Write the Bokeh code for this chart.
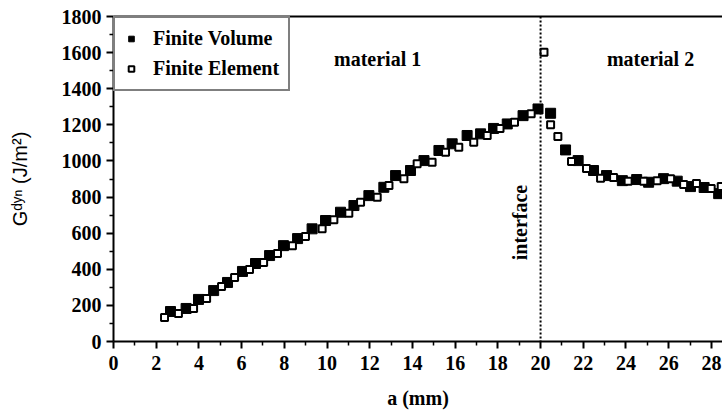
from bokeh.plotting import figure
from bokeh.models import (Range1d, Span, Label, Legend, LegendItem, LinearAxis,
                          FixedTicker, ColumnDataSource)
from bokeh.embed import file_html
from bokeh.resources import INLINE

# Dynamic energy release rate along the crack length a (mm)
fv_a = [2.67, 3.40, 3.98, 4.69, 5.34, 6.04, 6.65, 7.31, 7.96, 8.62, 9.30, 9.93,
        10.63, 11.26, 11.96, 12.66, 13.21, 13.91, 14.54, 15.24, 15.86, 16.56,
        17.19, 17.80, 18.44, 19.18, 19.88,
        20.47, 21.17, 21.76, 22.48, 23.09, 23.83, 24.50, 25.06, 25.76, 26.40,
        27.02, 27.66, 28.34]
fv_g = [166, 183, 233, 282, 327, 388, 432, 476, 531, 570, 624, 670,
        716, 753, 808, 854, 919, 947, 1002, 1058, 1095, 1141,
        1150, 1180, 1205, 1251, 1288,
        1264, 1061, 1002, 947, 919, 891, 897, 882, 902, 888,
        858, 853, 819]

fe_a = [2.39, 3.04, 3.75, 4.36, 5.06, 5.67, 6.37, 7.03, 7.68, 8.38, 8.99, 9.77,
        10.32, 11.02, 11.57, 12.35, 12.90, 13.60, 14.22, 14.92, 15.55, 16.17,
        16.87, 17.50, 18.10, 18.78, 19.56,
        20.16, 20.47, 20.81, 21.45, 22.15, 22.81, 23.42, 24.10, 24.83, 25.46,
        26.09, 26.70, 27.30, 27.99, 28.46]
fe_g = [133, 155, 183, 238, 305, 354, 399, 437, 487, 531, 581, 624,
        674, 710, 771, 799, 864, 901, 984, 993, 1048, 1076,
        1104, 1141, 1180, 1214, 1261,
        1602, 1200, 1135, 997, 958, 904, 908, 888, 888, 891,
        902, 869, 875, 847, 858]

x_ticks = list(range(0, 30, 2))
x_minor = list(range(1, 29, 2))
y_ticks = list(range(0, 2000, 200))
y_minor = list(range(100, 1800, 200))
interface_a = 20

SERIF = "Liberation Serif"
SANS = "Liberation Sans"

p = figure(width=722, height=414, output_backend="svg", toolbar_location=None,
           x_range=Range1d(0, 28.52), y_range=Range1d(0, 1800),
           min_border_left=113, min_border_right=0, min_border_top=16,
           min_border_bottom=73)
p.xgrid.visible = False
p.ygrid.visible = False
p.outline_line_color = None
p.background_fill_color = "white"
p.border_fill_color = "white"

p.xaxis.ticker = FixedTicker(ticks=x_ticks, minor_ticks=x_minor)
p.yaxis.ticker = FixedTicker(ticks=y_ticks, minor_ticks=y_minor)

for ax in (p.xaxis[0], p.yaxis[0]):
    ax.axis_line_width = 2
    ax.axis_line_color = "black"
    ax.major_tick_line_width = 2
    ax.major_tick_line_color = "black"
    ax.major_tick_out = 7
    ax.major_tick_in = 0
    ax.minor_tick_line_width = 1.5
    ax.minor_tick_line_color = "black"
    ax.minor_tick_out = 4
    ax.minor_tick_in = 0
    ax.major_label_text_font = SERIF
    ax.major_label_text_font_size = "20px"
    ax.major_label_text_font_style = "bold"
    ax.major_label_text_color = "black"

p.xaxis.major_label_standoff = 7
p.yaxis.major_label_standoff = 5
p.xaxis.axis_label = "a (mm)"
p.xaxis.axis_label_text_font = SERIF
p.xaxis.axis_label_text_font_size = "20px"
p.xaxis.axis_label_text_font_style = "bold"
p.xaxis.axis_label_text_color = "black"
p.xaxis.axis_label_standoff = 14

p.yaxis.axis_label = "G\u1d48\u02b8\u207f (J/m\u00b2)"
p.yaxis.axis_label_text_font = SANS
p.yaxis.axis_label_text_font_size = "20px"
p.yaxis.axis_label_text_font_style = "normal"
p.yaxis.axis_label_text_color = "black"
p.yaxis.axis_label_standoff = 28

# top frame line
top = LinearAxis(ticker=FixedTicker(ticks=[]), axis_line_width=2,
                 axis_line_color="black", major_tick_line_color=None,
                 minor_tick_line_color=None, major_label_text_font_size="0px")
p.add_layout(top, "above")

# interface between the two materials
p.add_layout(Span(location=interface_a, dimension="height", line_color="black",
                  line_width=2, line_dash="2 2"))

fv_src = ColumnDataSource(dict(a=fv_a, g=fv_g))
fe_src = ColumnDataSource(dict(a=fe_a, g=fe_g))
r_fv = p.scatter("a", "g", source=fv_src, marker="square", size=10,
                 fill_color="black", line_color="black", line_width=1)
r_fe = p.scatter("a", "g", source=fe_src, marker="square", size=7,
                 fill_color="white", line_color="black", line_width=2)

legend = Legend(items=[LegendItem(label="Finite Volume", renderers=[r_fv]),
                       LegendItem(label="Finite Element", renderers=[r_fe])],
                location="top_left", margin=0, padding=9, spacing=7,
                glyph_width=14, glyph_height=21, label_height=21,
                label_standoff=15, label_text_font=SERIF,
                label_text_font_size="20px", label_text_font_style="bold",
                label_text_color="black",
                border_line_color="black", border_line_width=2,
                background_fill_color="white", background_fill_alpha=1)
p.add_layout(legend)

def note(x, y, s, angle=0):
    p.add_layout(Label(x=x, y=y, text=s, text_font=SERIF, text_font_size="20px",
                       text_font_style="bold", text_color="black", angle=angle,
                       text_align="center", text_baseline="middle"))

note(12.37, 1567, "material 1")
note(25.15, 1567, "material 2")
note(19.06, 659, "interface", angle=1.5708)

open("out.html", "w").write(file_html(p, INLINE))
